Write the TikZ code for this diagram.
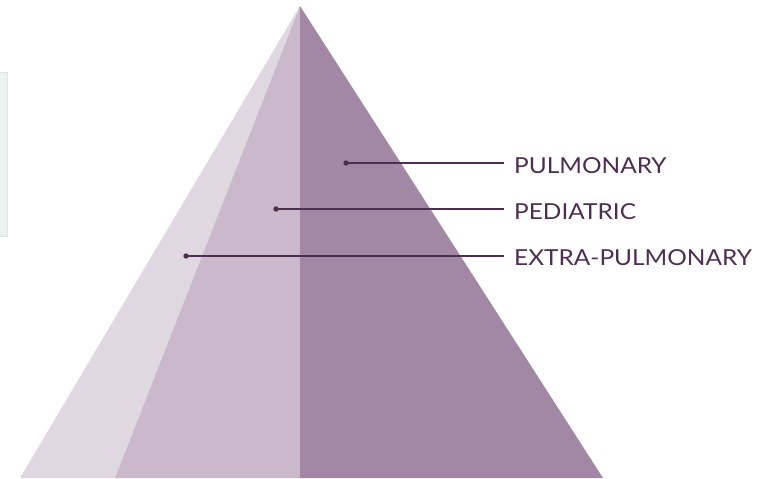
\documentclass[tikz,border=0pt]{standalone}
\usepackage{fontspec}
\newfontfamily\labfont[FakeStretch=1.11]{Lato}
\definecolor{pyrlight}{RGB}{224,216,225}
\definecolor{pyrmid}{RGB}{201,185,203}
\definecolor{pyrdark}{RGB}{163,136,166}
\definecolor{labink}{RGB}{78,46,80}
\definecolor{boxfill}{RGB}{237,242,240}
\definecolor{boxedge}{RGB}{222,230,227}
\tikzset{
  leader/.style={draw=labink, line width=1.3pt},
  dotmark/.style={circle, fill=labink, inner sep=0pt, minimum size=5.4pt},
  lab/.style={anchor=west, inner sep=0pt, text=labink, font=\labfont\fontsize{22}{24}\selectfont},
}
\begin{document}
\begin{tikzpicture}[x=1pt,y=-1pt]
\useasboundingbox (0,0) rectangle (780,479);
% left grey panel
\filldraw[fill=boxfill, draw=boxedge, line width=0.8pt] (-2,72) rectangle (7,236);
% pyramid
\coordinate (apex) at (300,6);
\fill[pyrlight] (apex) -- (20,478) -- (115,478) -- cycle;
\fill[pyrmid] (apex) -- (115,478) -- (300,478) -- cycle;
\fill[pyrdark] (apex) -- (300,478) -- (603,478) -- cycle;
% leaders
\node[dotmark] (dpul) at (346,163) {};
\node[dotmark] (dped) at (276,209) {};
\node[dotmark] (dext) at (186,256) {};
\coordinate (epul) at (504,163);
\coordinate (eped) at (504,209);
\coordinate (eext) at (504,256);
\draw[leader] (dpul.center) -- (epul);
\draw[leader] (dped.center) -- (eped);
\draw[leader] (dext.center) -- (eext);
\node[lab] (tpul) at (514,166) {PULMONARY};
\node[lab] (tped) at (514,212) {PEDIATRIC};
\node[lab] (text) at (514,258) {EXTRA-PULMONARY};
\end{tikzpicture}
\end{document}
